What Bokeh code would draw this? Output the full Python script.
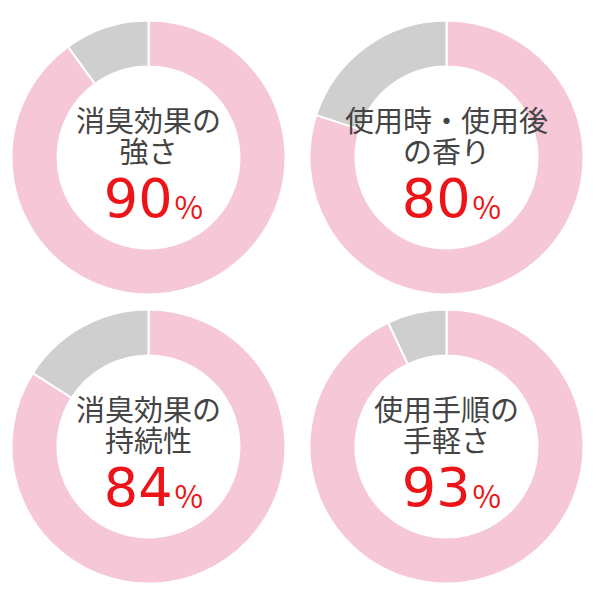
import math
from bokeh.plotting import figure
from bokeh.models import Range1d, ColumnDataSource
from bokeh.core.properties import value
from bokeh.embed import file_html
from bokeh.resources import INLINE

# ---- data ----
title_line1 = ["消臭効果の", "使用時・使用後", "消臭効果の", "使用手順の"]
title_line2 = ["強さ", "の香り", "持続性", "手軽さ"]
percents = [90, 80, 84, 93]

PINK = "#F6C7D6"
GRAY = "#D0CFD0"
RED = "#EC1419"
TEXT = "#444444"
FONT = "Noto Sans CJK JP"
NUM_FONT = "DejaVu Sans"

W = H = 584
p = figure(width=W, height=H, output_backend="svg", toolbar_location=None,
           x_range=Range1d(0, W), y_range=Range1d(600 - H, 600),
           min_border=0)
p.axis.visible = False
p.grid.visible = False
p.outline_line_color = None
p.background_fill_color = "white"
p.border_fill_color = "white"

# layout of the 2x2 grid (pixel coordinates, y measured from top)
col_x = [148, 446]
row_y = [157, 446]
R_OUT, R_IN = 137, 91

cx, cy, g_start, g_end, p_start, p_end = [], [], [], [], [], []
for i, v in enumerate(percents):
    x = col_x[i % 2]
    y = 600 - row_y[i // 2]
    cx.append(x)
    cy.append(y)
    top = math.pi / 2
    rest = 2 * math.pi * (100 - v) / 100
    g_start.append(top)
    g_end.append(top + rest)
    p_start.append(top + rest)
    p_end.append(top + 2 * math.pi)

src = ColumnDataSource(dict(
    x=cx, y=cy, gs=g_start, ge=g_end, ps=p_start, pe=p_end,
    l1=title_line1, l2=title_line2,
    num=[str(v) for v in percents], pct=["%"] * len(percents),
    y1=[y + 39 for y in cy], y2=[y + 8 for y in cy],
    yn=[y - 40 for y in cy], yp=[y - 48 for y in cy],
    xn=[x + 24 for x in cx], xp=[x + 26 for x in cx],
))

p.annular_wedge(x="x", y="y", inner_radius=R_IN, outer_radius=R_OUT,
                start_angle="ps", end_angle="pe", fill_color=PINK,
                line_color="white", line_width=2, source=src)
p.annular_wedge(x="x", y="y", inner_radius=R_IN, outer_radius=R_OUT,
                start_angle="gs", end_angle="ge", fill_color=GRAY,
                line_color="white", line_width=2, source=src)

p.text(x="x", y="y1", text="l1", text_font=value(FONT), text_font_size="29px",
       text_color=TEXT, text_align="center", text_baseline="middle", source=src)
p.text(x="x", y="y2", text="l2", text_font=value(FONT), text_font_size="29px",
       text_color=TEXT, text_align="center", text_baseline="middle", source=src)
p.text(x="xn", y="yn", text="num", text_font=value(NUM_FONT), text_font_size="54px",
       text_color=RED, text_align="right", text_baseline="middle", source=src)
p.text(x="xp", y="yp", text="pct", text_font=value(FONT), text_font_size="31px",
       text_color=RED, text_align="left", text_baseline="middle", source=src)

open("out.html", "w").write(file_html(p, INLINE))
